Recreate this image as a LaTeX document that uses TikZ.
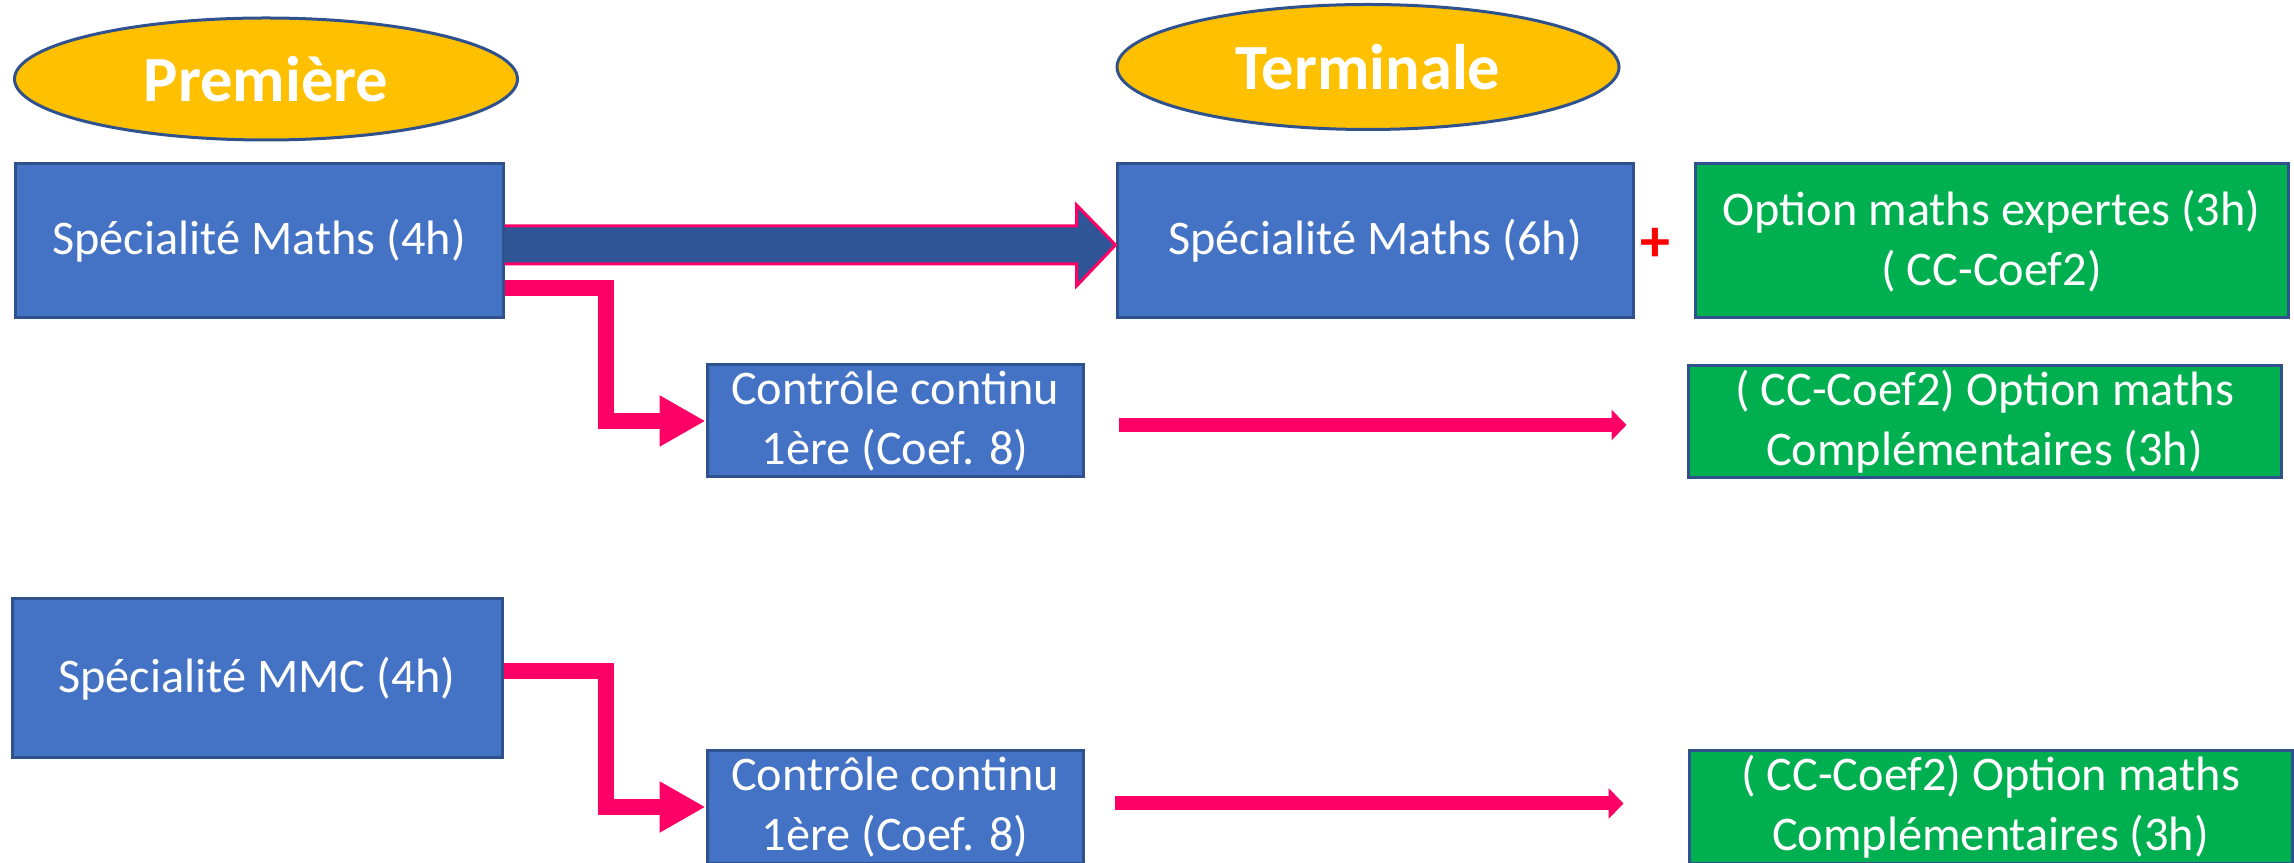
\documentclass[tikz,border=0pt]{standalone}
\usepackage{fontspec}
\setmainfont{Carlito}
\usetikzlibrary{shapes.geometric}
\usetikzlibrary{arrows.meta}
\usetikzlibrary{calc}
\definecolor{boxblue}{HTML}{4472C4}
\definecolor{edgeblue}{HTML}{2F528F}
\definecolor{optgreen}{HTML}{00B050}
\definecolor{titlegold}{HTML}{FFC000}
\definecolor{arrowpink}{HTML}{FF0066}
\definecolor{shaftblue}{HTML}{2F5597}
\tikzset{
  bluebox/.style={draw=edgeblue, line width=3pt, fill=boxblue, text=white, align=center,
    inner sep=0pt, font=\fontsize{48.3}{60}\selectfont},
  greenbox/.style={bluebox, fill=optgreen},
  titleoval/.style={ellipse, draw=edgeblue, line width=3pt, fill=titlegold, text=white,
    inner sep=0pt, font=\bfseries\fontsize{64.5}{76}\selectfont},
  bigarrow/.style={draw=arrowpink, line width=3pt, fill=shaftblue, line join=miter},
  elbow/.style={draw=arrowpink, line width=16pt, line join=miter, -{Triangle[length=46pt,width=48pt]}},
  thinarrow/.style={draw=arrowpink, line width=14pt, -{Triangle[length=15pt,width=30pt]}},
}

\begin{document}
\begin{tikzpicture}[x=1pt,y=1pt]
      \useasboundingbox (0,0) rectangle (2294,862);
      % titles
      \node[titleoval, minimum width=503pt, minimum height=122pt] (prem) at (266,783) {Première};
      \node[titleoval, minimum width=502pt, minimum height=125pt] (term) at (1368,795) {Terminale};
      % boxes
      \node[bluebox, minimum width=488pt, minimum height=154pt] (spe4) at (259,621) {Spécialité Maths (4h)};
      \node[bluebox, minimum width=516pt, minimum height=154pt] (spe6) at (1375,621) {Spécialité Maths (6h)};
      \node[greenbox, minimum width=593pt, minimum height=154pt] (expert) at (1991.5,621) {Option maths expertes (3h)\\( CC-Coef2)};
      \node[text=red, font=\bfseries\fontsize{60}{60}\selectfont] (plus) at (1655,617) {+};
      \node[bluebox, minimum width=376pt, minimum height=112pt] (ccA) at (895,441) {Contrôle continu\\1ère (Coef. 8)};
      \node[greenbox, minimum width=593pt, minimum height=112pt] (complA) at (1984.5,440) {( CC-Coef2) Option maths\\Complémentaires (3h)};
      \node[bluebox, minimum width=490pt, minimum height=159pt] (mmc) at (257,183.5) {Spécialité MMC (4h)};
      \node[bluebox, minimum width=376pt, minimum height=112pt] (ccB) at (895,55) {Contrôle continu\\1ère (Coef. 8)};
      \node[greenbox, minimum width=603pt, minimum height=112pt] (complB) at (1990.5,55) {( CC-Coef2) Option maths\\Complémentaires (3h)};
      % arrows
      \draw[bigarrow] ($(spe4.east)+(0,15)$) -- ($(spe6.west)+(-39,15)$) -- ($(spe6.west)+(-39,36)$)
        -- ($(spe6.west)+(0,-4)$) -- ($(spe6.west)+(-39,-45)$) -- ($(spe6.west)+(-39,-23)$) -- ($(spe4.east)+(0,-23)$);
      \draw[elbow] ([yshift=31pt]spe4.south east) -- ++(101,0) |- (ccA.west);
      \draw[elbow] ([yshift=7.5pt]mmc.east) -- ++(102,0) |- (ccB.west);
      \draw[thinarrow] ([xshift=34pt,yshift=-4pt]ccA.east) -- ([xshift=-60pt,yshift=-3pt]complA.west);
      \draw[thinarrow] ([xshift=30pt,yshift=3.5pt]ccB.east) -- ([xshift=-64pt,yshift=3.5pt]complB.west);
\end{tikzpicture}
\end{document}
